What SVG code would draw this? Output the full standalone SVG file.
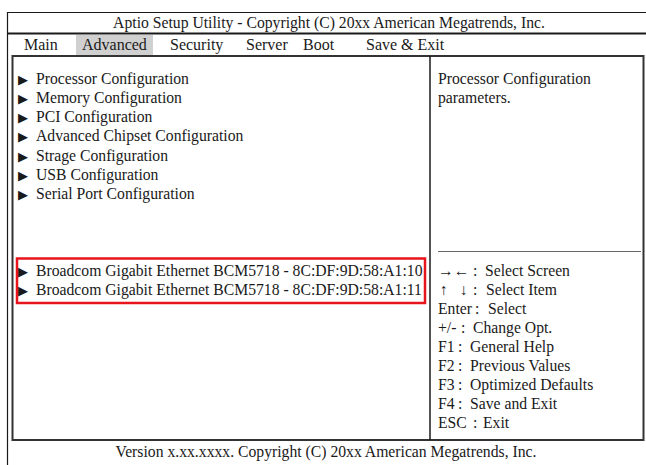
<svg xmlns="http://www.w3.org/2000/svg" width="646" height="465" viewBox="0 0 646 465">
<style>
text{font-family:"Liberation Serif","Times New Roman",serif;font-size:15.7px;fill:#1a1a1a}
.menu{font-size:16px}
.tri{font-family:"DejaVu Sans",sans-serif;font-size:13px}
.ln{stroke:#1a1a1a;fill:none}
</style>
<rect width="646" height="465" fill="#fff"/>
<g id="frame">
<line class="ln" x1="7.5" y1="12" x2="7.5" y2="465" stroke-width="1.2"/>
<line class="ln" x1="7" y1="12.5" x2="646" y2="12.5" stroke-width="1.2"/>
<line class="ln" x1="7" y1="33.5" x2="646" y2="33.5" stroke-width="2.2"/>
<rect x="12.5" y="56" width="631" height="384" fill="none" stroke="#333" stroke-width="2"/>
<line class="ln" x1="430" y1="56" x2="430" y2="440" stroke-width="1.5"/>
<line x1="438" y1="251.5" x2="641" y2="251.5" stroke="#666" stroke-width="1"/>
</g>
<g id="title"><text x="329" y="28" text-anchor="middle">Aptio Setup Utility - Copyright (C) 20xx American Megatrends, Inc.</text></g>
<g id="menu">
<rect x="76" y="35" width="77" height="20" fill="#d0d0d0"/>
<text class="menu" x="24" y="50">Main</text>
<text class="menu" x="82" y="50">Advanced</text>
<text class="menu" x="170" y="50">Security</text>
<text class="menu" x="246" y="50">Server</text>
<text class="menu" x="303" y="50">Boot</text>
<text class="menu" x="366" y="50">Save &amp; Exit</text>
</g>
<g id="items">
<text class="tri" x="18" y="84">▶</text><text x="36" y="84">Processor Configuration</text>
<text class="tri" x="18" y="103">▶</text><text x="36" y="103">Memory Configuration</text>
<text class="tri" x="18" y="122">▶</text><text x="36" y="122">PCI Configuration</text>
<text class="tri" x="18" y="141">▶</text><text x="36" y="141">Advanced Chipset Configuration</text>
<text class="tri" x="18" y="161">▶</text><text x="36" y="161">Strage Configuration</text>
<text class="tri" x="18" y="180">▶</text><text x="36" y="180">USB Configuration</text>
<text class="tri" x="18" y="199">▶</text><text x="36" y="199">Serial Port Configuration</text>
</g>
<g id="ethernet">
<rect x="17" y="258.5" width="408" height="44.5" fill="none" stroke="#e8141c" stroke-width="2.5"/>
<text class="tri" x="18" y="276">▶</text><text x="36" y="276">Broadcom Gigabit Ethernet BCM5718 - 8C:DF:9D:58:A1:10</text>
<text class="tri" x="18" y="295">▶</text><text x="36" y="295">Broadcom Gigabit Ethernet BCM5718 - 8C:DF:9D:58:A1:11</text>
</g>
<g id="help">
<text x="438" y="84">Processor Configuration</text>
<text x="438" y="103">parameters.</text>
</g>
<g id="keys">
<text x="438" y="276">→←</text><text x="473" y="276">:</text><text x="485" y="276">Select Screen</text>
<text x="440" y="295">↑</text><text x="460" y="295">↓</text><text x="473" y="295">:</text><text x="486" y="295">Select Item</text>
<text x="438" y="314">Enter</text><text x="475" y="314">:</text><text x="488" y="314">Select</text>
<text x="438" y="333">+/-</text><text x="461" y="333">:</text><text x="473" y="333">Change Opt.</text>
<text x="438" y="352">F1</text><text x="458" y="352">:</text><text x="470" y="352">General Help</text>
<text x="438" y="371">F2</text><text x="458" y="371">:</text><text x="470" y="371">Previous Values</text>
<text x="438" y="390">F3</text><text x="458" y="390">:</text><text x="470" y="390">Optimized Defaults</text>
<text x="438" y="409">F4</text><text x="458" y="409">:</text><text x="470" y="409">Save and Exit</text>
<text x="438" y="428">ESC</text><text x="473" y="428">:</text><text x="483" y="428">Exit</text>
</g>
<g id="footer"><text x="326" y="457" text-anchor="middle">Version x.xx.xxxx. Copyright (C) 20xx American Megatrends, Inc.</text></g>
</svg>
